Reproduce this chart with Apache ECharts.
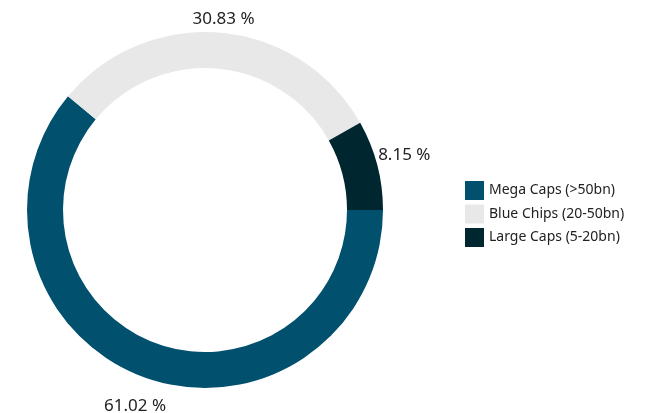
<!DOCTYPE html>
<html>
<head>
<meta charset="utf-8">
<script src="https://cdn.jsdelivr.net/npm/echarts@6/dist/echarts.min.js"></script>
<style>html,body{margin:0;padding:0;background:#fff}#c{width:645px;height:413px}</style>
</head>
<body>
<div id="c"></div>
<script>
const categories = ['Mega Caps (>50bn)', 'Blue Chips (20-50bn)', 'Large Caps (5-20bn)'];
const values = [61.02, 30.83, 8.15];
const colors = ['#00506E', '#E8E8E8', '#00262F'];
// small per-label vertical nudges (layout only)
const labelNudgeY = [2, 14, -3];

const data = categories.map((n, i) => ({ name: n, value: values[i], itemStyle: { color: colors[i] } }));
const labelData = categories.map((n, i) => ({ name: n, value: values[i] }));

const chart = echarts.init(document.getElementById('c'), null, { renderer: 'canvas' });
chart.setOption({
  animation: false,
  legend: {
    orient: 'vertical',
    left: 465,
    top: 181,
    padding: 0,
    itemWidth: 19,
    itemHeight: 19,
    itemGap: 4.5,
    icon: 'rect',
    textStyle: { fontFamily: 'Noto Sans', fontSize: 14, color: '#222' },
    data: categories
  },
  series: [
    {
      type: 'pie',
      center: [205, 210],
      radius: [142, 178],
      startAngle: 0,
      clockwise: true,
      silent: true,
      label: { show: false },
      labelLine: { show: false },
      data: data
    },
    {
      type: 'pie',
      center: [205, 210],
      radius: [198, 208],
      startAngle: 0,
      clockwise: true,
      silent: true,
      itemStyle: { color: 'rgba(0,0,0,0)' },
      label: {
        show: true,
        position: 'inside',
        formatter: p => p.value.toFixed(2) + ' %',
        fontFamily: 'Noto Sans',
        fontSize: 17,
        color: '#222'
      },
      labelLayout: p => ({ dy: labelNudgeY[p.dataIndex] }),
      labelLine: { show: false },
      data: labelData
    }
  ]
});
</script>
</body>
</html>
